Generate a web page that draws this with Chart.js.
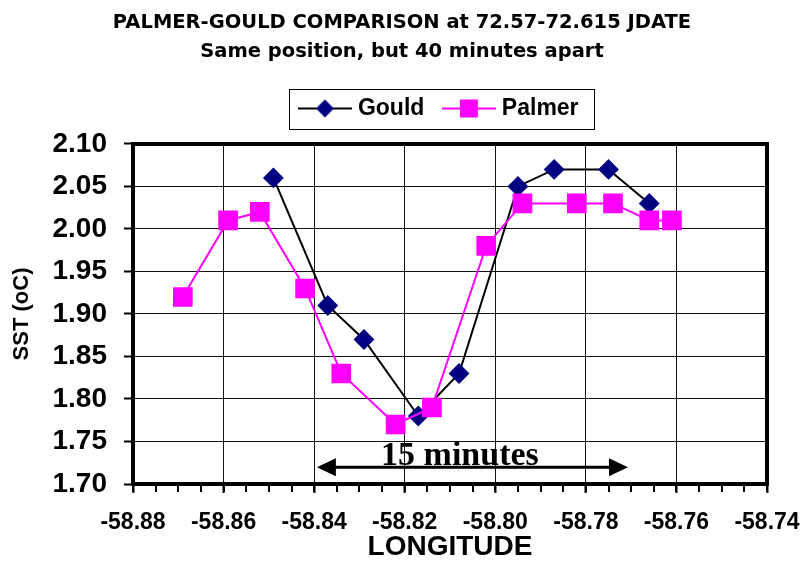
<!DOCTYPE html>
<html>
<head>
<meta charset="utf-8">
<script src="https://cdn.jsdelivr.net/npm/chart.js@4/dist/chart.umd.min.js"></script>
<style>
  html, body { margin: 0; padding: 0; background: #fff; }
  #wrap { width: 804px; height: 561px; }
</style>
</head>
<body>
<div id="wrap"><canvas id="myChart" width="804" height="561"></canvas></div>
<script>
// data
var gouldLon = [-58.849, -58.837, -58.829, -58.817, -58.808, -58.795, -58.787, -58.775, -58.766];
var gouldSst = [2.06, 1.91, 1.87, 1.78, 1.83, 2.05, 2.07, 2.07, 2.03];
var palmerLon = [-58.869, -58.859, -58.852, -58.842, -58.834, -58.822, -58.814, -58.802, -58.794, -58.782, -58.774, -58.766, -58.761];
var palmerSst = [1.92, 2.01, 2.02, 1.93, 1.83, 1.77, 1.79, 1.98, 2.03, 2.03, 2.03, 2.01, 2.01];
var titleLines = ["PALMER-GOULD COMPARISON at 72.57-72.615 JDATE", "Same position, but 40 minutes apart"];
// the "15 minutes" note, in data units
var arrowFrom = -58.8394, arrowTo = -58.7707, arrowAt = 1.7197;
var noteText = "15 minutes", noteLon = -58.8078, noteSst = 1.7226;

function pairs(xs, ys) {
  return xs.map(function (x, i) { return {x: x, y: ys[i]}; });
}

// legend icons: line with the marker in the middle
function icon(lineColor, markColor, shape) {
  var c = document.createElement('canvas');
  c.width = 54; c.height = 22;
  var g = c.getContext('2d');
  g.strokeStyle = lineColor; g.lineWidth = 2;
  g.beginPath(); g.moveTo(0, 11); g.lineTo(54, 11); g.stroke();
  g.fillStyle = markColor;
  if (shape == 'diamond') {
    g.beginPath(); g.moveTo(27, 2); g.lineTo(36, 11); g.lineTo(27, 20); g.lineTo(18, 11); g.closePath(); g.fill();
  } else {
    g.fillRect(18, 2, 18, 18);
  }
  return c;
}
var gouldIcon = icon('#000', '#000080', 'diamond');
var palmerIcon = icon('#FF00FF', '#FF00FF', 'square');

var extras = {
  id: 'extras',
  afterLayout: function (chart) {
    // move the legend right and up, as in the picture
    var lg = chart.legend;
    var dy = 108.5 - (lg.top + lg.options.labels.padding + 11.5);
    lg.top += dy; lg.bottom += dy;
    lg.left += 39; lg.right += 39;
  },
  afterDatasetsDraw: function (chart) {
    var ctx = chart.ctx, xs = chart.scales.x, ys = chart.scales.y, a = chart.chartArea;
    ctx.save();
    // minor ticks on the x axis
    ctx.strokeStyle = '#000'; ctx.lineWidth = 2;
    for (var v = -58.88; v <= -58.74 + 1e-9; v += 0.005) {
      var px = Math.round(xs.getPixelForValue(v));
      ctx.beginPath(); ctx.moveTo(px, a.bottom); ctx.lineTo(px, a.bottom + 8); ctx.stroke();
    }
    // frame top / right
    ctx.lineWidth = 4;
    ctx.beginPath();
    ctx.moveTo(a.left, a.top); ctx.lineTo(a.right, a.top); ctx.lineTo(a.right, a.bottom + 2);
    ctx.stroke();
    // 15 minutes arrow
    var x1 = xs.getPixelForValue(arrowFrom), x2 = xs.getPixelForValue(arrowTo), y = ys.getPixelForValue(arrowAt);
    ctx.lineWidth = 3;
    ctx.beginPath(); ctx.moveTo(x1 + 10, y); ctx.lineTo(x2 - 10, y); ctx.stroke();
    ctx.fillStyle = '#000';
    ctx.beginPath(); ctx.moveTo(x1, y); ctx.lineTo(x1 + 19, y - 9); ctx.lineTo(x1 + 19, y + 9); ctx.closePath(); ctx.fill();
    ctx.beginPath(); ctx.moveTo(x2, y); ctx.lineTo(x2 - 19, y - 9); ctx.lineTo(x2 - 19, y + 9); ctx.closePath(); ctx.fill();
    ctx.font = 'bold 34px "Liberation Serif", "Times New Roman", serif';
    ctx.textAlign = 'center'; ctx.textBaseline = 'alphabetic';
    ctx.fillText(noteText, xs.getPixelForValue(noteLon), ys.getPixelForValue(noteSst));
    ctx.restore();
  },
  afterDraw: function (chart) {
    // box round the legend
    var boxes = chart.legend.legendHitBoxes;
    if (!boxes || !boxes.length) return;
    var l = 1e9, r = -1e9, t = 1e9, b = -1e9;
    boxes.forEach(function (h) {
      l = Math.min(l, h.left); r = Math.max(r, h.left + h.width);
      t = Math.min(t, h.top); b = Math.max(b, h.top + h.height);
    });
    var ctx = chart.ctx;
    ctx.save();
    ctx.strokeStyle = '#000'; ctx.lineWidth = 1;
    ctx.strokeRect(Math.round(l - 14.5) + 0.5, Math.round(t - 8) + 0.5, Math.round(r - l + 29.5), Math.round(b - t + 17));
    ctx.restore();
  }
};

var sans = '"Liberation Sans", Arial, sans-serif';

new Chart("myChart", {
  type: "line",
  data: {
    datasets: [{
      label: "Gould",
      data: pairs(gouldLon, gouldSst),
      borderColor: "#000",
      borderWidth: 2,
      backgroundColor: "#000080",
      pointBackgroundColor: "#000080",
      pointBorderColor: "#000080",
      pointStyle: "rectRot",
      pointRadius: 9,
      tension: 0,
      order: 1
    }, {
      label: "Palmer",
      data: pairs(palmerLon, palmerSst),
      borderColor: "#FF00FF",
      borderWidth: 2,
      backgroundColor: "#FF00FF",
      pointBackgroundColor: "#FF00FF",
      pointBorderColor: "#FF00FF",
      pointStyle: "rect",
      pointRadius: 12.5,
      tension: 0,
      order: 0
    }]
  },
  options: {
    responsive: false,
    animation: false,
    layout: {padding: 0},
    plugins: {
      tooltip: {enabled: false},
      title: {
        display: true,
        text: titleLines,
        color: "#000",
        font: {family: '"DejaVu Sans", sans-serif', size: 19.5, weight: "bold", lineHeight: 1.46},
        padding: {top: 9, bottom: 22}
      },
      legend: {
        display: true,
        labels: {
          usePointStyle: true,
          pointStyleWidth: 43,
          color: "#000",
          font: {family: sans, size: 23, weight: "bold"},
          padding: 23,
          generateLabels: function (chart) {
            return chart.data.datasets.map(function (ds, i) {
              return {text: ds.label, pointStyle: i == 0 ? gouldIcon : palmerIcon, datasetIndex: i,
                      fontColor: "#000", lineWidth: 0, hidden: false};
            });
          }
        }
      }
    },
    scales: {
      x: {
        type: "linear",
        min: -58.88,
        max: -58.74,
        afterFit: function (s) { s.height = 77; s.paddingRight = 37; },
        ticks: {
          stepSize: 0.02,
          autoSkip: false,
          maxRotation: 0,
          color: "#000",
          padding: 16,
          font: {family: sans, size: 23, weight: "bold"},
          callback: function (v) { return v.toFixed(2); }
        },
        grid: {color: "#111", lineWidth: 1, tickLength: 9, tickColor: "#000", tickWidth: 2},
        border: {color: "#000", width: 4},
        title: {display: true, text: "LONGITUDE", color: "#000", padding: {top: 0, bottom: 0},
                font: {family: sans, size: 28, weight: "bold", lineHeight: 1}}
      },
      y: {
        min: 1.70,
        max: 2.10,
        afterFit: function (s) { s.width = 133; },
        ticks: {
          stepSize: 0.05,
          autoSkip: false,
          color: "#000",
          padding: 17,
          font: {family: sans, size: 28, weight: "bold"},
          callback: function (v) { return v.toFixed(2); }
        },
        grid: {color: "#111", lineWidth: 1, tickLength: 9, tickColor: "#000", tickWidth: 2},
        border: {color: "#000", width: 4},
        title: {display: true, text: "SST (oC)", color: "#000", padding: {top: 9, bottom: 0},
                font: {family: sans, size: 22, weight: "bold"}}
      }
    }
  },
  plugins: [extras]
});
</script>
</body>
</html>
